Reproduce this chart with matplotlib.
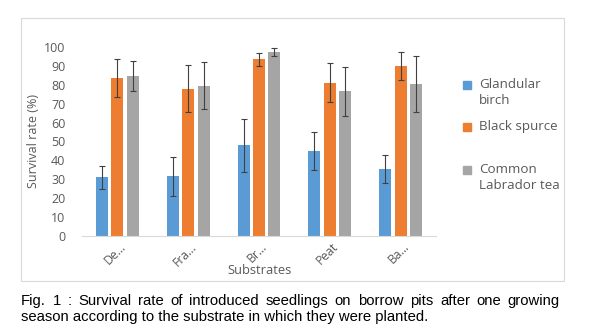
import numpy as np
import matplotlib
matplotlib.use("Agg")
import matplotlib.pyplot as plt
import matplotlib.transforms as mtransforms
from matplotlib.patches import Rectangle

substrates = ["De...", "Fra...", "Br...", "Peat", "Ba..."]
species = ["Glandular\nbirch", "Black spurce", "Common\nLabrador tea"]
birch = [31, 31.5, 48, 45, 35.5]
birch_err = [6, 10.5, 14, 10, 7.5]
spruce = [83.5, 78, 93.5, 81, 90]
spruce_err = [10, 12.5, 3.3, 10.3, 7.4]
tea = [84.5, 79.5, 97.5, 76.5, 80.5]
tea_err = [8, 12.3, 2, 13, 15]
caption = ["Fig. 1 : Survival rate of introduced seedlings on borrow pits after one growing",
           "season according to the substrate in which they were planted."]

colors = ["#5B9BD5", "#ED7D31", "#A5A5A5"]
txt_col = "#595959"
plt.rcParams["font.family"] = ["Open Sans", "DejaVu Sans"]

fig = plt.figure(figsize=(6, 3.36), dpi=100)
W, H = 600, 336

# outer chart frame
fig.patches.append(Rectangle((21 / W, 1 - 281 / H), 543 / W, 263 / H, transform=fig.transFigure,
                             fill=False, edgecolor="#d9d9d9", lw=0.8))

ax = fig.add_axes([82 / W, 1 - 236 / H, 354 / W, 189 / H])
x = np.arange(len(substrates))
width = 0.17
offset = 0.218
for i, (vals, errs) in enumerate([(birch, birch_err), (spruce, spruce_err), (tea, tea_err)]):
    ax.bar(x + (i - 1) * offset, vals, width, color=colors[i], yerr=errs,
           error_kw=dict(ecolor="#404040", elinewidth=0.8, capsize=2.5, capthick=0.8))

ax.set_xlim(-0.5, 4.5)
ax.set_ylim(0, 100)
ax.set_yticks(range(0, 101, 10))
ax.set_xticks(x)
ax.set_xticklabels(substrates, rotation=45, ha="right", va="top", rotation_mode="anchor")
ax.tick_params(length=0, labelcolor=txt_col)
ax.tick_params(axis="x", pad=3, labelsize=8.8)
ax.tick_params(axis="y", pad=12, labelsize=9)
shift = mtransforms.ScaledTranslation(2 / 100, 0, fig.dpi_scale_trans)
for lab in ax.get_xticklabels():
    lab.set_transform(lab.get_transform() + shift)
for s in ["top", "right", "left"]:
    ax.spines[s].set_visible(False)
ax.spines["bottom"].set_color("#d9d9d9")
ax.set_ylabel("Survival rate (%)", fontsize=9, color=txt_col, va="center")
ax.yaxis.set_label_coords(-0.136, 0.5)
ax.set_xlabel("Substrates", fontsize=9.3, color=txt_col, va="center")
ax.xaxis.set_label_coords(0.5, -0.18)

# legend drawn by hand
leg_y = [85, 127, 170]
for c, lab, yy in zip(colors, species, leg_y):
    fig.patches.append(Rectangle((463 / W, 1 - (yy + 4) / H), 8 / W, 8 / H,
                                 transform=fig.transFigure, color=c))
    fig.text(479 / W, 1 - (yy - 7) / H, lab, fontsize=9.6, color=txt_col,
             ha="left", va="top", linespacing=1.25)

# caption: size picked so the second line is ~407 px wide, first line justified
fig.canvas.draw()
r = fig.canvas.get_renderer()
x0, x1 = 21, 560
probe = fig.text(0, 0, caption[1], fontsize=10, family="Liberation Sans")
cap_size = 10 * 407 / probe.get_window_extent(r).width
probe.remove()

words = caption[0].split(" ")
objs = [fig.text(0, 0, w, fontsize=cap_size, family="Liberation Sans", color="black") for w in words]
widths = [o.get_window_extent(r).width for o in objs]
gap = (x1 - x0 - sum(widths)) / (len(words) - 1)
cx = x0
for o, w in zip(objs, widths):
    o.set_position((cx / W, 1 - 301 / H))
    o.set_va("center")
    cx += w + gap
fig.text(x0 / W, 1 - 317 / H, caption[1], fontsize=cap_size, family="Liberation Sans",
         color="black", va="center")

fig.savefig("out.png", dpi=100)
